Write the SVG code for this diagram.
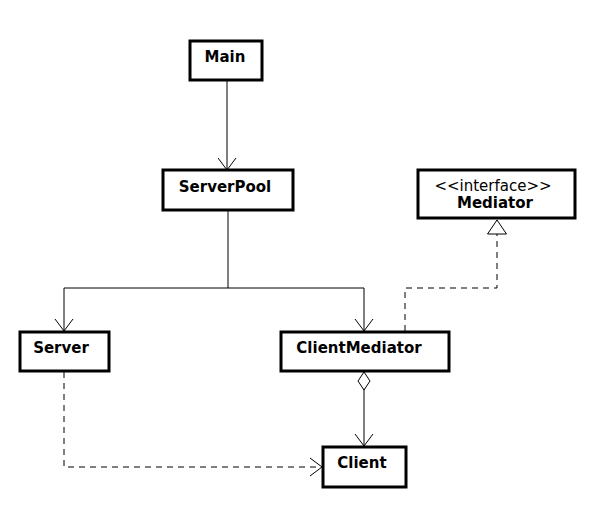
<svg xmlns="http://www.w3.org/2000/svg" width="601" height="521" viewBox="0 0 601 521">
  <style>
    .box { fill: #ffffff; stroke: #000000; stroke-width: 3; }
    .name { font-family: "DejaVu Sans", sans-serif; font-weight: bold; font-size: 15px; fill: #000000; text-anchor: middle; }
    .stereo { font-family: "DejaVu Sans", sans-serif; font-weight: normal; font-size: 15px; fill: #000000; text-anchor: middle; }
    .line { fill: none; stroke: #000000; stroke-width: 1; }
    .dash { stroke-dasharray: 6 5; }
  </style>
  <defs>
    <marker id="open" viewBox="0 0 14 20" refX="13" refY="10" markerWidth="14" markerHeight="20" markerUnits="userSpaceOnUse" orient="auto">
      <path d="M1,1 L13,10 L1,19" fill="none" stroke="#000" stroke-width="1"/>
    </marker>
    <marker id="realize" viewBox="0 0 16 22" refX="15" refY="11" markerWidth="16" markerHeight="22" markerUnits="userSpaceOnUse" orient="auto">
      <path d="M1,1.5 L15,11 L1,20.5 Z" fill="#fff" stroke="#000" stroke-width="1"/>
    </marker>
    <marker id="diamond" viewBox="0 0 20 14" refX="1" refY="7" markerWidth="20" markerHeight="14" markerUnits="userSpaceOnUse" orient="auto">
      <path d="M1,7 L10,1 L19,7 L10,13 Z" fill="#fff" stroke="#000" stroke-width="1"/>
    </marker>
  </defs>

  <g id="connectors">
    <!-- Main uses ServerPool -->
    <line class="line" x1="227" y1="80" x2="227" y2="170" marker-end="url(#open)"/>
    <!-- ServerPool to Server / ClientMediator -->
    <polyline class="line" points="228,210 228,288"/>
    <polyline class="line" points="228,288 64,288 64,331" marker-end="url(#open)"/>
    <polyline class="line" points="228,288 364,288 364,331" marker-end="url(#open)"/>
    <!-- ClientMediator realizes Mediator -->
    <polyline class="line dash" points="405,331 405,288 497,288 497,220" marker-end="url(#realize)"/>
    <!-- ClientMediator aggregates Client -->
    <line class="line" x1="364" y1="372" x2="364" y2="446" marker-start="url(#diamond)" marker-end="url(#open)"/>
    <!-- Server depends on Client -->
    <polyline class="line dash" points="64,372 64,467 322,467" marker-end="url(#open)"/>
  </g>

  <g id="main">
    <rect class="box" x="190" y="41" width="72" height="39"/>
    <text class="name" x="225" y="62">Main</text>
  </g>

  <g id="serverpool">
    <rect class="box" x="163" y="170" width="130" height="40"/>
    <text class="name" x="225" y="192">ServerPool</text>
  </g>

  <g id="mediator">
    <rect class="box" x="418" y="170" width="157" height="48"/>
    <text class="stereo" x="493" y="191">&lt;&lt;interface&gt;&gt;</text>
    <text class="name" x="495" y="208">Mediator</text>
  </g>

  <g id="server">
    <rect class="box" x="20" y="332" width="89" height="39"/>
    <text class="name" x="61" y="353">Server</text>
  </g>

  <g id="clientmediator">
    <rect class="box" x="281" y="332" width="168" height="39"/>
    <text class="name" x="359" y="353">ClientMediator</text>
  </g>

  <g id="client">
    <rect class="box" x="323" y="447" width="83" height="40"/>
    <text class="name" x="362" y="468">Client</text>
  </g>
</svg>
